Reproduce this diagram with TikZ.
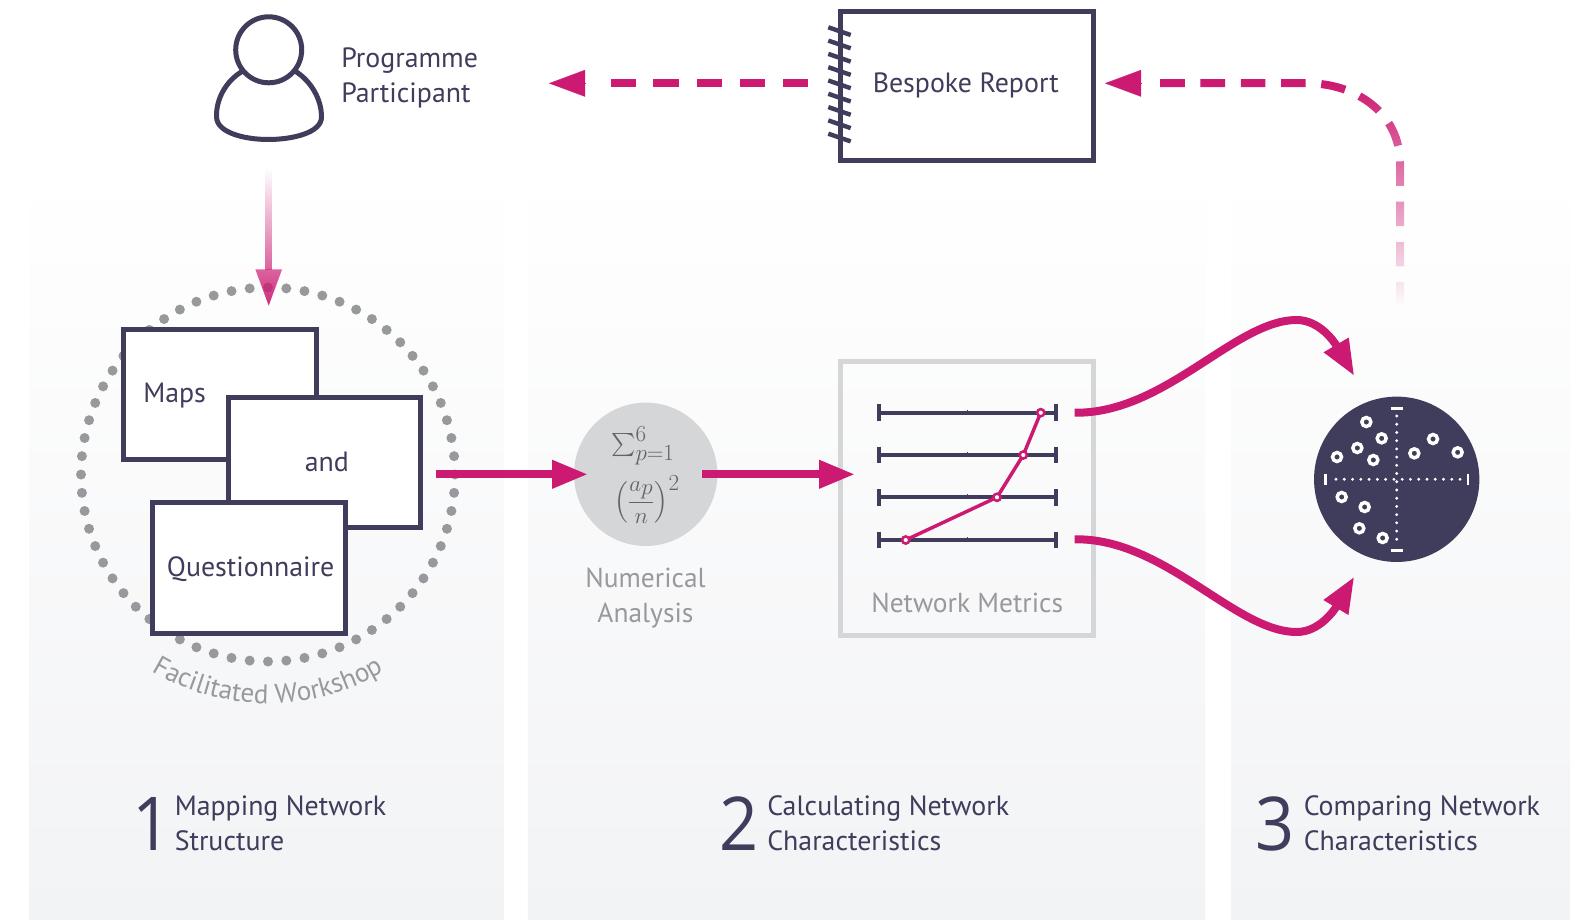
\documentclass[tikz,border=0pt]{standalone}
\usepackage{fontspec}
\usepackage{amsmath}
\usepackage{graphicx}
\setmainfont{PT Sans}
\newfontfamily\digitfont{Open Sans}
\usetikzlibrary{arrows.meta,fadings,decorations.text}
\DeclareMathSizes{18}{18}{16}{11}
\definecolor{navy}{HTML}{3F3C5C}
\definecolor{mag}{HTML}{CC1A72}
\definecolor{lgray}{HTML}{98999C}
\definecolor{circgray}{HTML}{D5D6D8}
\definecolor{mathgray}{HTML}{626366}
\definecolor{panelb}{HTML}{F2F3F5}
\tikzfading[name=fadeDown, top color=transparent!100, bottom color=transparent!8]
\tikzfading[name=fadeUp, top color=transparent!0, bottom color=transparent!100]
\tikzset{
  panel/.style={top color=white,bottom color=panelb,draw=none},
  sheet/.style={draw=navy,fill=white,line width=3.75pt,inner sep=0pt,rectangle},
  lab/.style={anchor=base west,inner sep=0pt,text=navy,align=left,font=\fontsize{20.9}{26.25}\selectfont},
  glab/.style={lab,text=lgray,font=\fontsize{20.6}{26.25}\selectfont},
  bignum/.style={anchor=base west,inner sep=0pt,text=navy,font=\digitfont\fontsize{55.7}{57}\selectfont},
  flow/.style={draw=mag,line width=6pt,-{Triangle[length=27pt,width=20pt]}},
  headonly/.style={draw=mag,fill=mag,line width=0.2pt,-{Triangle[length=27pt,width=20pt]}},
  dashflow/.style={draw=mag,line width=6pt,dash pattern=on 19pt off 13.3pt},
  dashcurve/.style={draw=mag,line width=6pt,dash pattern=on 18.4pt off 11.8pt},
  metric/.style={draw=navy,line width=2.8pt},
  ring/.style={draw=white,line width=2.6pt,fill=none},
  fadeA/.style={path fading=fadeDown,fit fading=false,fading transform={shift={(268.7,237)},yscale=2.06}},
  fadeB/.style={path fading=fadeUp,fit fading=false,fading transform={shift={(1280,195)},xscale=6,yscale=3.33}},
}
\begin{document}
\begin{tikzpicture}[x=0.75pt,y=-0.75pt]
\useasboundingbox (0,0) rectangle (1584,920);
\fill[white] (0,0) rectangle (1584,920);
% panels
\shade[panel] (29.3,170) rectangle (503.6,920);
\shade[panel] (527.9,170) rectangle (1205,920);
\shade[panel] (1231,170) rectangle (1570,920);

% named connector ends
\coordinate (pEnd) at (268.7,168);
\coordinate (pHead) at (268.7,270);
\coordinate (pHeadL) at (255.3,269.3);
\coordinate (pHeadR) at (282.1,269.3);
\coordinate (pTip) at (268.7,305.7);
\coordinate (wsOut) at (435.7,474.3);
\coordinate (naIn) at (588,474.3);
\coordinate (naOut) at (702.3,474.3);
\coordinate (nmIn) at (855,474.3);
\coordinate (nmOutA) at (1074.7,412.7);
\coordinate (nmOutB) at (1074.7,539.3);
\coordinate (cmpInA) at (1354.3,376);
\coordinate (cmpInB) at (1354.3,576.6);
\coordinate (cmpOut) at (1400,306.7);
\coordinate (rpDashR) at (1157,83.3);
\coordinate (rpHeadBaseR) at (1141.7,83.3);
\coordinate (rpTipR) at (1105,83.3);
\coordinate (rpDashL) at (808,83.3);
\coordinate (ppDash) at (611,83.3);
\coordinate (ppHeadBase) at (586,83.3);
\coordinate (ppTip) at (549,83.3);

% person
\node[circle,draw=navy,line width=3.75pt,minimum size=49.5pt,inner sep=0pt] (head) at (268.7,49.8) {};
\draw[navy,line width=3.75pt] (242,71.5) .. controls (226,81) and (216,99) .. (216.5,117) .. controls (217,133) and (245,139.5) .. (268.3,139.5) .. controls (292,139.5) and (321.5,133) .. (321.5,117) .. controls (321.5,99) and (311,81) .. (295,71);
\node[lab] (ppl) at (341,102.7) {Programme\\Participant};

% workshop ring
\foreach \i in {0,...,63}{
  \fill[lgray] ({268+187*cos(\i*5.625-90)},{474.5+187*sin(\i*5.625-90)}) circle[radius=5];
}
\coordinate (wsA) at (137,661.6);
\path[decorate,decoration={text along path,text align=center,text color=lgray,
  text={|\fontsize{20.4}{20}\selectfont|Facilitated Workshop}}]
  (wsA) .. controls (216.2,717.6) and (319.8,717.6) .. (399,661.6);

% sheets
\node[sheet,minimum width=144.4pt,minimum height=97.5pt] (maps) at (220.25,394) {};
\node[lab] (mapst) at (143,402.2) {Maps};
\node[sheet,minimum width=144.2pt,minimum height=97.5pt] (andb) at (324.35,462.5) {};
\node[lab] (andt) at (304.5,471) {and};
\node[sheet,minimum width=144.4pt,minimum height=97.9pt] (quest) at (249.25,567.75) {};
\node[lab] (questt) at (166.7,576) {Questionnaire};

% person -> workshop (fading)
\draw[draw=mag,line width=5.25pt,fadeA] (pEnd) -- (pHead);
\fill[mag,fadeA] (pHeadL) -- (pHeadR) -- (pTip) -- cycle;

% numerical analysis
\node[circle,fill=circgray,minimum size=107.5pt,inner sep=0pt] (na) at (645.7,474.3) {};
\node[anchor=center,inner sep=0pt,text=mathgray,font=\fontsize{18}{18}\selectfont] (nasum) at (643,446) {$\textstyle\sum_{p=1}^{6}$};
\node[anchor=center,inner sep=0pt,text=mathgray,font=\fontsize{18}{18}\selectfont] (nafrac) at (647,499.5) {$\left(\dfrac{a_p}{n}\right)^{2}$};
\node[glab,align=center,anchor=base] (nat) at (645.5,622.7) {Numerical\\Analysis};

% network metrics
\node[rectangle,draw=circgray,line width=3.75pt,minimum width=190.1pt,minimum height=205.5pt,inner sep=0pt] (nm) at (966.75,498) {};
\foreach \y in {412.7,455,497.3,540}{
  \draw[metric] (879,\y) -- (1056,\y);
  \draw[metric] (879,\y-8.3) -- (879,\y+8.3);
  \draw[metric] (1056,\y-8.3) -- (1056,\y+8.3);
  \draw[navy,line width=0.6pt] (967.7,\y-3) -- (967.7,\y);
}
\coordinate (mA) at (1040.7,412.7);
\coordinate (mB) at (1023.3,455);
\coordinate (mC) at (997,497.3);
\coordinate (mD) at (905.7,540);
\draw[mag,line width=2.6pt] (mA) -- (mB) -- (mC) -- (mD);
\foreach \p in {mA,mB,mC,mD}{
  \draw[mag,fill=white,line width=1.9pt] (\p) circle[radius=3.6];
}
\node[glab] (nmt) at (871,612.7) {Network Metrics};

% flows
\draw[flow] (wsOut) -- (naIn);
\draw[flow] (naOut) -- (nmIn);
\draw[flow] (nmOutA) .. controls (1165,414) and (1235,320) .. (1296.7,320) .. controls (1320,320) and (1335,343) .. (cmpInA);
\draw[flow] (nmOutB) .. controls (1165,538) and (1235,632) .. (1296.7,632) .. controls (1320,632) and (1335,609) .. (cmpInB);

% comparison disc
\node[circle,fill=navy,minimum size=124pt,inner sep=0pt] (cmp) at (1396.7,479.3) {};
\foreach \i in {0,...,15}{
  \fill[white] (1336+8.27*\i,479.3) circle[radius=1.6];
  \fill[white] (1396.7,416+8.22*\i) circle[radius=1.6];
}
\draw[white,line width=1.9pt] (1325.3,473.5) -- (1325.3,485.2);
\draw[white,line width=1.9pt] (1468,473.5) -- (1468,485.2);
\draw[white,line width=1.9pt] (1390.7,408.3) -- (1402.7,408.3);
\draw[white,line width=1.9pt] (1390.7,550.7) -- (1402.7,550.7);
\foreach \a/\b in {259/126,305/175,232/204,280/240,171/231,403/220,459/177,533/217,185/351,254/381,238/445,308/474}{
  \draw[ring] ({1280+\a/3},{380+\b/3}) circle[radius=4.5];
}

% report
\node[sheet,minimum width=190.1pt,minimum height=112.1pt] (rp) at (966.75,86.25) {};
\foreach \i in {0,...,8}{
  \draw[navy,line width=3.3pt] (828.3,27.3+13.3*\i) -- (850.7,35+13.3*\i);
}
\node[lab] (rpt) at (872.5,92.7) {Bespoke Report};

% report -> participant
\draw[dashflow] (rpDashL) -- (ppDash);
\draw[headonly] (ppHeadBase) -- (ppTip);

% comparison -> report
\draw[dashcurve,fadeB] (cmpOut) -- (1400,163) .. controls (1400,115) and (1358,83.3) .. (1306.7,83.3) -- (rpDashR);
\draw[headonly] (rpHeadBaseR) -- (rpTipR);

% captions
\node[bignum] (c1) at (132,850) {\scalebox{0.92}[1]{1}};
\node[lab] (c1t) at (174.5,850) {Mapping Network\\Structure};
\node[bignum] (c2) at (719,850) {\scalebox{0.92}[1]{2}};
\node[lab] (c2t) at (767,850) {Calculating Network\\Characteristics};
\node[bignum] (c3) at (1255,850) {\scalebox{0.92}[1]{3}};
\node[lab] (c3t) at (1303.5,850) {Comparing Network\\Characteristics};
\end{tikzpicture}
\end{document}
